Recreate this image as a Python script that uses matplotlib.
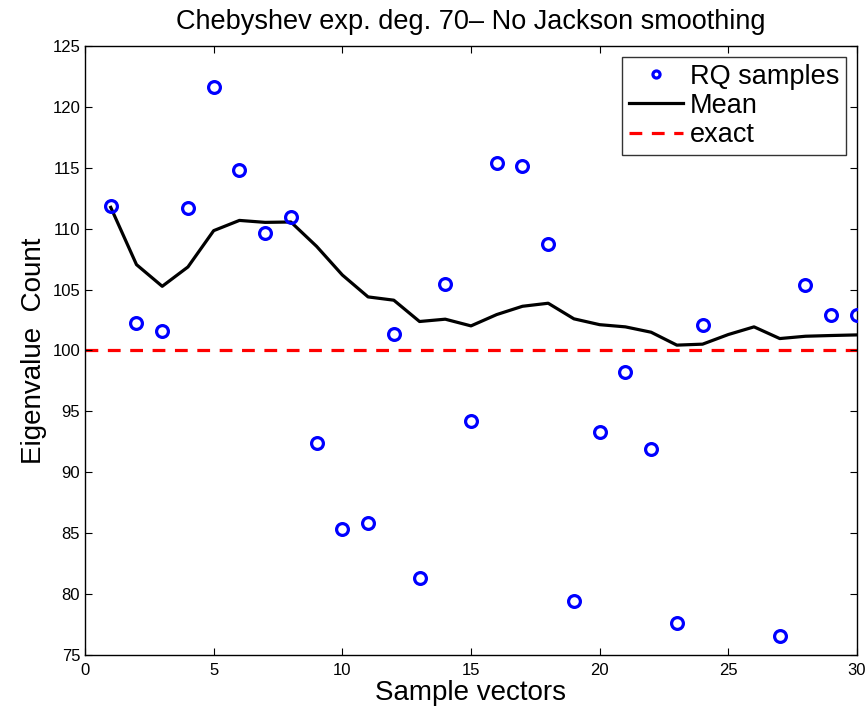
import numpy as np
import matplotlib.pyplot as plt

plt.rcParams['font.family'] = ['Liberation Sans', 'DejaVu Sans']

samples = np.arange(1, 31)
rq_x = [1, 2, 3, 4, 5, 6, 7, 8, 9, 10, 11, 12, 13, 14, 15, 16, 17, 18, 19, 20,
        21, 22, 23, 24, 27, 28, 29, 30]
rq_y = [111.83, 102.27, 101.64, 111.66, 121.61, 114.84, 109.64, 110.93, 92.4, 85.37,
        85.84, 101.37, 81.31, 105.49, 94.18, 115.38, 115.11, 108.72, 79.43, 93.28,
        98.22, 91.89, 77.62, 102.1, 76.56, 105.41, 102.95, 102.95]
mean_vals = [111.75, 107.05, 105.27, 106.86, 109.84, 110.68, 110.52, 110.55, 108.55, 106.2,
             104.4, 104.13, 102.38, 102.57, 102.02, 102.95, 103.63, 103.88, 102.6, 102.12,
             101.94, 101.5, 100.44, 100.52, 101.31, 101.94, 100.98, 101.17, 101.23, 101.28]
exact = 100

fig = plt.figure(figsize=(8.65, 7.1), dpi=100)
ax = fig.add_axes([0.0983, 0.0775, 0.8924, 0.8577])

ax.plot(rq_x, rq_y, 'o', color='blue', markerfacecolor='none', markersize=8.5,
        markeredgewidth=2.3, label='RQ samples', zorder=3)
ax.plot(samples, mean_vals, '-', color='black', linewidth=2.3, label='Mean', zorder=2)
ax.axhline(exact, color='red', linestyle=(0, (4, 3)), linewidth=2.3, label='exact', zorder=1)

ax.set_xlim(0, 30)
ax.set_ylim(75, 125)
ax.set_xticks(np.arange(0, 31, 5))
ax.set_yticks(np.arange(75, 126, 5))
ax.tick_params(direction='in', top=True, right=True, length=5, labelsize=12, width=0.8)
ax.tick_params(axis='x', pad=6)
for s in ax.spines.values():
    s.set_linewidth(1.0)

ax.set_title('Chebyshev exp. deg. 70\u2013 No Jackson smoothing', fontsize=19.5, pad=12)
ax.set_xlabel('Sample vectors', fontsize=20, labelpad=1)
ax.set_ylabel('Eigenvalue  Count', fontsize=20, labelpad=4)

leg = ax.legend(loc='upper right', fontsize=19.5, frameon=True, fancybox=False,
                edgecolor='black', borderpad=0.25, labelspacing=0.12, handlelength=2.0,
                handletextpad=0.25, borderaxespad=0.4, markerscale=0.6)
leg.get_frame().set_linewidth(1.0)

fig.savefig('out.png', dpi=100)
